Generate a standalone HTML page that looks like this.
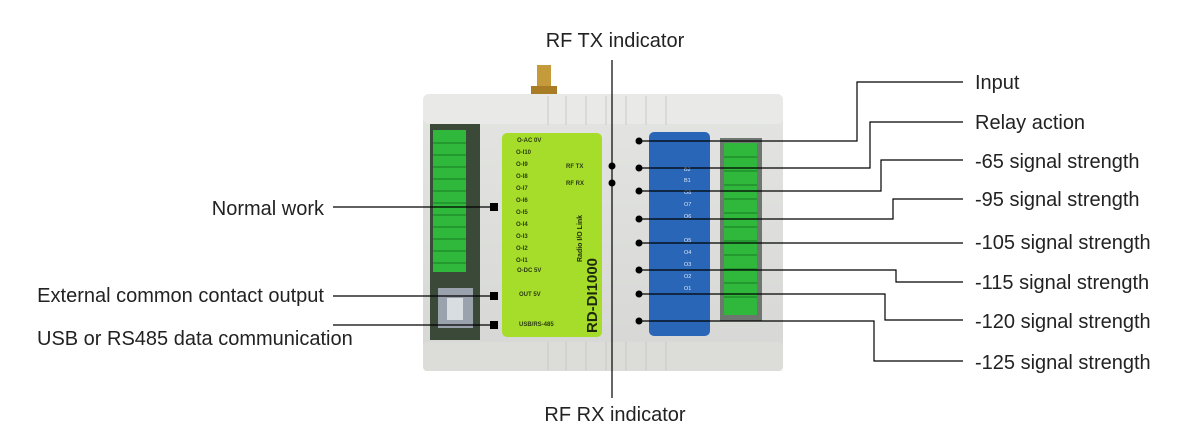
<!DOCTYPE html>
<html><head><meta charset="utf-8"><style>
body{margin:0;background:#fff;}
svg{display:block;font-family:"Liberation Sans",Arial,sans-serif;}
</style></head><body>
<svg width="1200" height="434" viewBox="0 0 1200 434" xmlns="http://www.w3.org/2000/svg">
<defs>
<linearGradient id="body" x1="0" y1="0" x2="0" y2="1"><stop offset="0" stop-color="#e4e5e2"/><stop offset="1" stop-color="#d6d7d4"/></linearGradient>
</defs>
<rect x="537" y="65" width="14" height="24" fill="#c49a3a"/>
<rect x="531" y="86" width="26" height="8" fill="#a87d25"/>
<rect x="423" y="94" width="360" height="277" rx="6" fill="url(#body)"/>
<rect x="423" y="94" width="360" height="30" rx="6" fill="#e9eae7"/>
<rect x="423" y="342" width="360" height="29" rx="4" fill="#dcdcd9"/>
<g stroke="#c9cac6" stroke-width="1">
<line x1="548" y1="96" x2="548" y2="125"/><line x1="566" y1="96" x2="566" y2="125"/><line x1="586" y1="96" x2="586" y2="125"/><line x1="606" y1="96" x2="606" y2="125"/><line x1="626" y1="96" x2="626" y2="125"/><line x1="646" y1="96" x2="646" y2="125"/><line x1="666" y1="96" x2="666" y2="125"/>
<line x1="548" y1="342" x2="548" y2="370"/><line x1="566" y1="342" x2="566" y2="370"/><line x1="586" y1="342" x2="586" y2="370"/><line x1="606" y1="342" x2="606" y2="370"/><line x1="626" y1="342" x2="626" y2="370"/><line x1="646" y1="342" x2="646" y2="370"/><line x1="666" y1="342" x2="666" y2="370"/>
</g>
<rect x="430" y="124" width="50" height="216" fill="#3b4a38"/>
<rect x="433" y="130" width="33" height="142" fill="#2fb83c"/>
<g stroke="#1a7a24" stroke-width="1">
<line x1="433" y1="143" x2="466" y2="143"/><line x1="433" y1="155" x2="466" y2="155"/><line x1="433" y1="167" x2="466" y2="167"/><line x1="433" y1="179" x2="466" y2="179"/><line x1="433" y1="191" x2="466" y2="191"/><line x1="433" y1="203" x2="466" y2="203"/><line x1="433" y1="215" x2="466" y2="215"/><line x1="433" y1="227" x2="466" y2="227"/><line x1="433" y1="239" x2="466" y2="239"/><line x1="433" y1="251" x2="466" y2="251"/><line x1="433" y1="263" x2="466" y2="263"/>
</g>
<rect x="438" y="288" width="35" height="40" fill="#9aa3ad"/>
<rect x="447" y="298" width="16" height="22" fill="#d8dde2"/>
<rect x="502" y="133" width="100" height="204" rx="5" fill="#a6dd2a"/>
<g font-size="6" font-weight="bold" fill="#2a3a10">
<text x="517" y="142">O-AC 0V</text><text x="516" y="154">O-I10</text><text x="516" y="166">O-I9</text><text x="516" y="178">O-I8</text><text x="516" y="190">O-I7</text><text x="516" y="202">O-I6</text><text x="516" y="214">O-I5</text><text x="516" y="226">O-I4</text><text x="516" y="238">O-I3</text><text x="516" y="250">O-I2</text><text x="516" y="262">O-I1</text><text x="517" y="272">O-DC 5V</text>
<text x="566" y="168">RF TX</text><text x="566" y="185">RF RX</text>
<text x="519" y="296">OUT 5V</text><text x="519" y="326">USB/RS-485</text>
</g>
<text transform="translate(597,333) rotate(-90)" font-size="15" font-weight="bold" fill="#1f2a0c">RD-DI1000</text>
<text transform="translate(582,262) rotate(-90)" font-size="7" font-weight="bold" fill="#1f2a0c">Radio I/O Link</text>
<rect x="649" y="132" width="61" height="204" rx="5" fill="#2a66b8"/>
<g font-size="5.5" fill="#dfe8f5">
<text x="684" y="171">B2</text><text x="684" y="182">B1</text><text x="684" y="194">O8</text><text x="684" y="206">O7</text><text x="684" y="218">O6</text><text x="684" y="242">O5</text><text x="684" y="254">O4</text><text x="684" y="266">O3</text><text x="684" y="278">O2</text><text x="684" y="290">O1</text>
</g>
<rect x="720" y="138" width="42" height="183" fill="#6e7670"/>
<rect x="724" y="143" width="33" height="172" fill="#2fb83c"/>
<g stroke="#1a7a24" stroke-width="1">
<line x1="724" y1="157" x2="757" y2="157"/><line x1="724" y1="171" x2="757" y2="171"/><line x1="724" y1="185" x2="757" y2="185"/><line x1="724" y1="199" x2="757" y2="199"/><line x1="724" y1="213" x2="757" y2="213"/><line x1="724" y1="227" x2="757" y2="227"/><line x1="724" y1="241" x2="757" y2="241"/><line x1="724" y1="255" x2="757" y2="255"/><line x1="724" y1="269" x2="757" y2="269"/><line x1="724" y1="283" x2="757" y2="283"/><line x1="724" y1="297" x2="757" y2="297"/>
</g>
<g stroke="#000" stroke-width="1.2" fill="none">
<line x1="612" y1="60" x2="612" y2="398"/>
<polyline points="639,141 857,141 857,82 963,82"/>
<polyline points="639,168 870,168 870,122 963,122"/>
<polyline points="639,191 881,191 881,160 963,160"/>
<polyline points="639,219 893,219 893,199 963,199"/>
<polyline points="639,243 963,243"/>
<polyline points="639,270 896,270 896,282 963,282"/>
<polyline points="639,294 885,294 885,320 963,320"/>
<polyline points="639,321 874,321 874,361 963,361"/>
<line x1="333" y1="207" x2="494" y2="207"/>
<line x1="333" y1="296" x2="494" y2="296"/>
<line x1="333" y1="325" x2="494" y2="325"/>
</g>
<g fill="#000">
<circle cx="612" cy="166" r="3.5"/><circle cx="612" cy="183" r="3.5"/>
<circle cx="639" cy="141" r="3.5"/><circle cx="639" cy="168" r="3.5"/><circle cx="639" cy="191" r="3.5"/><circle cx="639" cy="219" r="3.5"/><circle cx="639" cy="243" r="3.5"/><circle cx="639" cy="270" r="3.5"/><circle cx="639" cy="294" r="3.5"/><circle cx="639" cy="321" r="3.5"/>
<rect x="490" y="203" width="8" height="8"/><rect x="490" y="292" width="8" height="8"/><rect x="490" y="321" width="8" height="8"/>
</g>
<g font-size="20" fill="#222">
<text x="615" y="47" text-anchor="middle">RF TX indicator</text>
<text x="615" y="421" text-anchor="middle">RF RX indicator</text>
<text x="975" y="89">Input</text>
<text x="975" y="129">Relay action</text>
<text x="975" y="168">-65 signal strength</text>
<text x="975" y="206">-95 signal strength</text>
<text x="975" y="249">-105 signal strength</text>
<text x="975" y="289">-115 signal strength</text>
<text x="975" y="328">-120 signal strength</text>
<text x="975" y="369">-125 signal strength</text>
<text x="324" y="215" text-anchor="end">Normal work</text>
<text x="324" y="302" text-anchor="end">External common contact output</text>
<text x="37" y="345">USB or RS485 data communication</text>
</g>
</svg>
</body></html>
